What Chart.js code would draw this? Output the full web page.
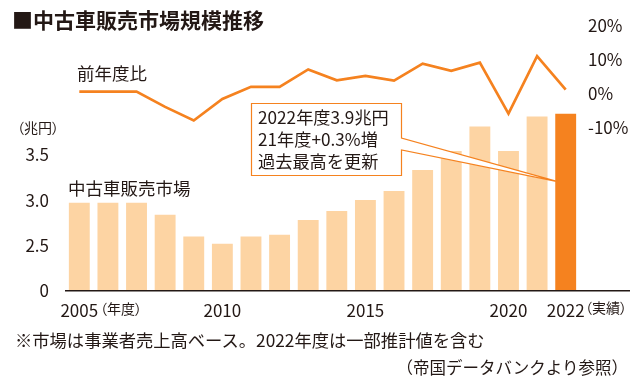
<!DOCTYPE html>
<html lang="ja">
<head>
<meta charset="utf-8">
<script src="https://cdn.jsdelivr.net/npm/chart.js@4.4.1/dist/chart.umd.min.js"></script>
<style>
  body { margin: 0; background: #fff; }
  #wrap { position: relative; width: 640px; height: 387px; overflow: hidden;
          font-family: "Noto Sans CJK JP", "Noto Sans", sans-serif; color: #231815; }
  #chart { position: absolute; left: 0; top: 0; }
  .txt { position: absolute; white-space: nowrap; line-height: 1; }
  .palt { font-feature-settings: "palt"; }
  #title { left: 12px; top: 9px; font-size: 21px; font-weight: bold; }
  #rateLabel { left: 77px; top: 64px; font-size: 17.5px; }
  #unit { left: 17px; top: 120px; font-size: 14px; }
  #sizeLabel { left: 68px; top: 179px; font-size: 17.5px; }
  #fy { left: 100px; top: 301px; font-size: 14px; }
  #actual { left: 585px; top: 300px; font-size: 14px; }
  #note { left: 15px; top: 331px; font-size: 17.3px; }
  #source { right: 12px; top: 359px; font-size: 16.5px; }
  #callout { position: absolute; left: 258px; top: 106px; font-size: 17.2px; line-height: 22px; white-space: nowrap; }
</style>
</head>
<body>
<div id="wrap">
  <canvas id="chart" width="640" height="387"></canvas>
  <div class="txt" id="title">■中古車販売市場規模推移</div>
  <div class="txt" id="rateLabel">前年度比</div>
  <div class="txt palt" id="unit">（兆円）</div>
  <div class="txt" id="sizeLabel">中古車販売市場</div>
  <div class="txt palt" id="fy">（年度）</div>
  <div class="txt palt" id="actual">（実績）</div>
  <div id="callout">2022年度3.9兆円<br>21年度+0.3%増<br>過去最高を更新</div>
  <div class="txt" id="note">※市場は事業者売上高ベース。2022年度は一部推計値を含む</div>
  <div class="txt" id="source">（帝国データバンクより参照）</div>
</div>
<script>
const YEARS = [
  "2005", "2006", "2007", "2008", "2009", "2010", "2011", "2012", "2013",
  "2014", "2015", "2016", "2017", "2018", "2019", "2020", "2021", "2022",
];
// 兆円
const MARKET_SIZE = [
  2.97, 2.97, 2.97, 2.84, 2.6, 2.52, 2.6, 2.62, 2.78,
  2.88, 3.0, 3.1, 3.33, 3.54, 3.81, 3.54, 3.92, 3.95,
];
// 前年度比 (%)
const YOY_RATE = [
  0.7, 0.7, 0.7, -3.8, -7.8, -1.5, 2.1, 2.1, 7.2,
  4.0, 5.3, 3.9, 8.9, 6.8, 9.2, -5.8, 11.1, 1.3,
];
const X_TICK_YEARS = ["2005", "2010", "2015", "2020", "2022"];
const SIZE_TICKS = [0, 2.5, 3.0, 3.5];
const RATE_TICKS = [20, 10, 0, -10];

const INK = "#231815";
const PEACH = "#fdd4a3";
const ORANGE = "#f5821f";
const FONT = "'Noto Sans CJK JP', 'Noto Sans', sans-serif";

// the left axis is broken between 0 and 2.5
const BREAK = 2.0;
function toPlot(v) {
  return v === 0 ? 0 : v - BREAK;
}

const barColors = YEARS.map((y, i) => (i === YEARS.length - 1 ? ORANGE : PEACH));

const calloutPlugin = {
  id: "callout",
  afterDatasetsDraw(chart) {
    const ctx = chart.ctx;
    const x = chart.scales.x;
    const y = chart.scales.y;
    const tipX = x.getPixelForValue(YEARS.length - 1) - 7;
    const tipY = y.getPixelForValue(toPlot(3.2));
    ctx.save();
    ctx.beginPath();
    ctx.moveTo(251.5, 103.5);
    ctx.lineTo(401.5, 103.5);
    ctx.lineTo(401.5, 138);
    ctx.lineTo(tipX, tipY);
    ctx.lineTo(401.5, 150);
    ctx.lineTo(401.5, 175.5);
    ctx.lineTo(251.5, 175.5);
    ctx.closePath();
    ctx.fillStyle = "#fff";
    ctx.fill();
    ctx.strokeStyle = ORANGE;
    ctx.lineWidth = 1.2;
    ctx.stroke();
    ctx.restore();
  },
};

const baselinePlugin = {
  id: "baseline",
  afterDraw(chart) {
    const ctx = chart.ctx;
    const area = chart.chartArea;
    ctx.save();
    ctx.strokeStyle = INK;
    ctx.lineWidth = 1.4;
    ctx.beginPath();
    ctx.moveTo(area.left, area.bottom - 0.3);
    ctx.lineTo(chart.width - 10, area.bottom - 0.3);
    ctx.stroke();
    ctx.restore();
  },
};

new Chart(document.getElementById("chart"), {
  data: {
    labels: YEARS,
    datasets: [
      {
        type: "line",
        label: "前年度比",
        data: YOY_RATE,
        yAxisID: "y1",
        borderColor: ORANGE,
        borderWidth: 2.7,
        borderJoinStyle: "miter",
        pointRadius: 0,
        tension: 0,
        order: 1,
      },
      {
        type: "bar",
        label: "中古車販売市場",
        data: MARKET_SIZE.map(toPlot),
        yAxisID: "y",
        backgroundColor: barColors,
        borderWidth: 0,
        categoryPercentage: 1,
        barPercentage: 0.73,
        order: 2,
      },
    ],
  },
  options: {
    responsive: false,
    animation: false,
    events: [],
    layout: { padding: { top: 23, left: 0, right: 0, bottom: 0 } },
    plugins: {
      legend: { display: false },
      tooltip: { enabled: false },
    },
    scales: {
      x: {
        grid: { display: false, drawTicks: false },
        border: { display: false },
        ticks: {
          autoSkip: false,
          maxRotation: 0,
          padding: 9,
          color: INK,
          font: { family: FONT, size: 17 },
          callback: function (value) {
            const label = YEARS[value];
            return X_TICK_YEARS.includes(label) ? label : "";
          },
        },
        afterFit: (scale) => {
          scale.height = 96;
        },
      },
      y: {
        position: "left",
        min: 0,
        max: 2.913,
        grid: { display: false, drawTicks: false },
        border: { display: false },
        ticks: {
          padding: 16,
          color: INK,
          font: { family: FONT, size: 17 },
          callback: function (value) {
            const i = SIZE_TICKS.map(toPlot).findIndex((t) => Math.abs(t - value) < 1e-6);
            return i >= 0 ? (SIZE_TICKS[i] === 0 ? "0" : SIZE_TICKS[i].toFixed(1)) : "";
          },
        },
        afterBuildTicks: (scale) => {
          scale.ticks = SIZE_TICKS.map((v) => ({ value: toPlot(v) }));
        },
        afterFit: (scale) => {
          scale.width = 65;
        },
      },
      y1: {
        position: "right",
        min: -57.93,
        max: 19.91,
        grid: { display: false, drawTicks: false },
        border: { display: false },
        ticks: {
          padding: 8,
          color: INK,
          font: { family: FONT, size: 17 },
          callback: (value) => value + "%",
        },
        afterBuildTicks: (scale) => {
          scale.ticks = RATE_TICKS.map((v) => ({ value: v }));
        },
        afterFit: (scale) => {
          scale.width = 60;
        },
      },
    },
  },
  plugins: [calloutPlugin, baselinePlugin],
});
</script>
</body>
</html>
